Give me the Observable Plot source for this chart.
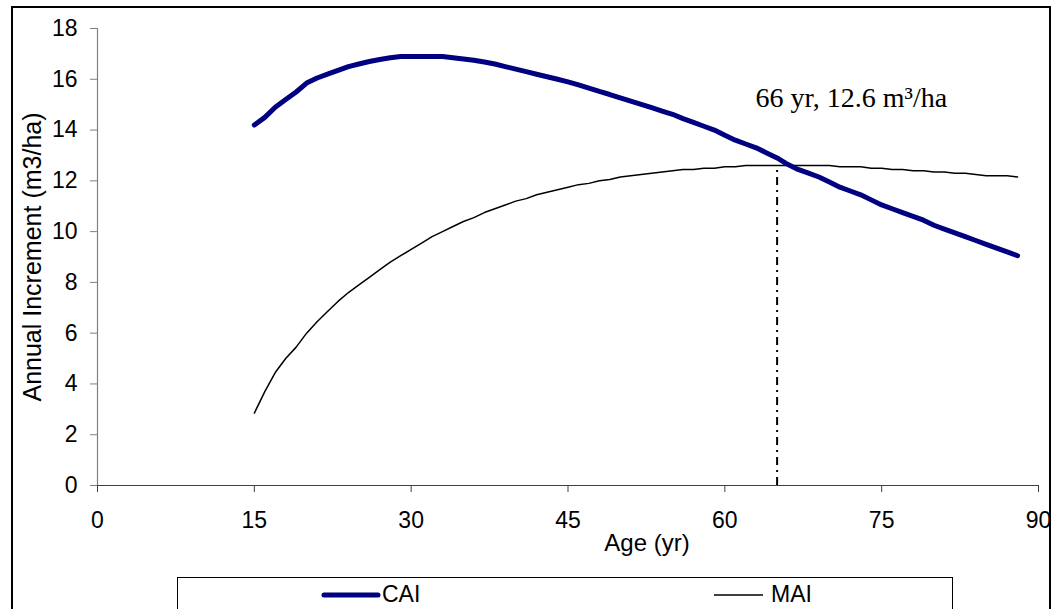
<!DOCTYPE html>
<html>
<head>
<meta charset="utf-8">
<script src="https://cdn.jsdelivr.net/npm/d3@7"></script>
<script src="https://cdn.jsdelivr.net/npm/@observablehq/plot@0.6"></script>
<style>
  html, body { margin: 0; padding: 0; background: #fff; }
  #wrap { position: relative; width: 1054px; height: 609px; overflow: hidden; font-family: "Liberation Sans", Arial, sans-serif; }
  #chart { position: absolute; left: 0; top: 0; }
  #outer { position: absolute; left: 11px; top: 6px; width: 1040px; height: 620px; border: 2px solid #000; box-sizing: border-box; pointer-events: none; }
  #legend { position: absolute; left: 177px; top: 577px; width: 776px; height: 60px; border: 1px solid #000; box-sizing: border-box; background: #fff; }
  .item { position: absolute; top: 3px; display: flex; align-items: center; font-size: 23px; color: #000; }
  .item svg { display: block; }
</style>
</head>
<body>
<div id="wrap">
  <div id="chart"></div>
  <div id="outer"></div>
  <div id="legend">
    <div class="item" style="left:143px"><svg width="60" height="26"><line x1="3" y1="13" x2="57" y2="13" stroke="#000080" stroke-width="5" stroke-linecap="round"/></svg><span style="margin-left:1px">CAI</span></div>
    <div class="item" style="left:535px"><svg width="52" height="26"><line x1="1" y1="13" x2="50" y2="13" stroke="#000" stroke-width="1.5"/></svg><span style="margin-left:6px">MAI</span></div>
  </div>
</div>
<script>
// ---- data ----
const ages = [15,16,17,18,19,20,21,22,23,24,25,26,27,28,29,30,31,32,33,34,35,36,37,38,39,40,41,42,43,44,45,46,47,48,49,50,51,52,53,54,55,56,57,58,59,60,61,62,63,64,65,66,67,68,69,70,71,72,73,74,75,76,77,78,79,80,81,82,83,84,85,86,87,88];
const cai = [14.2,14.5,14.9,15.2,15.5,15.85,16.05,16.2,16.35,16.5,16.6,16.7,16.78,16.85,16.9,16.9,16.9,16.9,16.9,16.85,16.8,16.75,16.68,16.6,16.5,16.4,16.3,16.2,16.1,16.0,15.9,15.78,15.65,15.52,15.4,15.27,15.14,15.01,14.88,14.75,14.62,14.45,14.3,14.15,14.0,13.8,13.6,13.45,13.3,13.1,12.9,12.65,12.45,12.3,12.15,11.95,11.75,11.6,11.45,11.25,11.05,10.9,10.75,10.6,10.45,10.25,10.1,9.95,9.8,9.65,9.5,9.35,9.2,9.05];
const mai = [2.85,3.7,4.45,5.0,5.45,6.0,6.45,6.85,7.25,7.6,7.9,8.2,8.5,8.8,9.05,9.3,9.55,9.8,10.0,10.2,10.4,10.55,10.75,10.9,11.05,11.2,11.3,11.45,11.55,11.65,11.75,11.85,11.9,12.0,12.05,12.15,12.2,12.25,12.3,12.35,12.4,12.45,12.45,12.5,12.5,12.55,12.55,12.6,12.6,12.6,12.6,12.6,12.6,12.6,12.6,12.6,12.55,12.55,12.55,12.5,12.5,12.45,12.45,12.4,12.4,12.35,12.35,12.3,12.3,12.25,12.2,12.2,12.2,12.15];
const xTicks = [0,15,30,45,60,75,90];
const yTicks = [0,2,4,6,8,10,12,14,16,18];
const markerAge = [65];
const markerValue = [12.6];
const annotation = [{x: 72.1, y: 15.28, text: "66 yr, 12.6 m³/ha"}];
const xTitle = "Age (yr)";
const yTitle = "Annual Increment (m3/ha)";

const caiData = ages.map((a, i) => ({age: a, v: cai[i]}));
const maiData = ages.map((a, i) => ({age: a, v: mai[i]}));
const marker = markerAge.map((a, i) => ({age: a, v: markerValue[i]}));

const chart = Plot.plot({
  width: 1054,
  height: 609,
  marginLeft: 97,
  marginRight: 16,
  marginTop: 28,
  marginBottom: 124,
  x: {domain: [0, 90]},
  y: {domain: [0, 18]},
  style: {fontFamily: "'Liberation Sans', Arial, sans-serif", fontSize: "23px", background: "transparent", color: "#000", overflow: "visible"},
  marks: [
    Plot.ruleX([0], {y1: 0, y2: 18, stroke: "#808080", strokeWidth: 1.2}),
    Plot.ruleY([0], {stroke: "#404040", strokeWidth: 1.2}),
    Plot.axisY({ticks: yTicks, tickSize: 7, tickPadding: 13, stroke: "#808080", fontSize: 23, label: null}),
    Plot.axisY({ticks: [], tickSize: 0, fontSize: 25, label: yTitle, labelAnchor: "center", labelArrow: "none", labelOffset: 74}),
    Plot.axisX({ticks: xTicks, tickSize: 7, tickPadding: 19, stroke: "#404040", fontSize: 23, label: null}),
    Plot.text([xTitle], {frameAnchor: "bottom", text: d => d, dx: 79, dy: 65, fontSize: 24}),
    Plot.ruleX(marker, {x: "age", y1: 0, y2: "v", stroke: "#000", strokeWidth: 2, strokeDasharray: "8,5,2,5"}),
    Plot.line(maiData, {x: "age", y: "v", stroke: "#000", strokeWidth: 1.5}),
    Plot.line(caiData, {x: "age", y: "v", stroke: "#000080", strokeWidth: 5, strokeLinecap: "round", strokeLinejoin: "round"}),
    Plot.text(annotation, {x: "x", y: "y", text: "text", fontFamily: "'Liberation Serif', 'Times New Roman', serif", fontSize: 28, textAnchor: "middle"})
  ]
});
document.getElementById("chart").appendChild(chart);
</script>
</body>
</html>
